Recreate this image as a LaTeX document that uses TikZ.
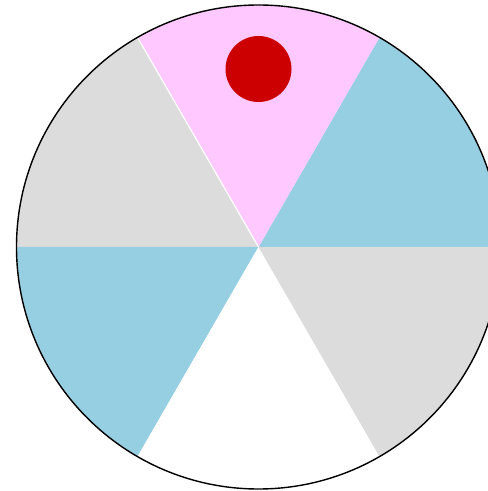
\documentclass[tikz,border=0pt]{standalone}
\definecolor{pinkS}{HTML}{FFC8FF}
\definecolor{blueS}{HTML}{97CFE2}
\definecolor{grayS}{HTML}{DCDCDC}
\definecolor{redD}{HTML}{CC0000}
\tikzset{sector/.style={draw=none}}
\begin{document}
\begin{tikzpicture}[x=1pt,y=1pt]
\useasboundingbox (0,0) rectangle (488,491);
\clip (0,0) rectangle (488,491);
\coordinate (c) at (258.5,244);
\def\R{242}
\fill[blueS] (c) -- ++(0:\R) arc (0:60:\R) -- cycle;
\fill[pinkS] (c) -- ++(60:\R) arc (60:120:\R) -- cycle;
\fill[grayS] (c) -- ++(120:\R) arc (120:180:\R) -- cycle;
\fill[blueS] (c) -- ++(180:\R) arc (180:240:\R) -- cycle;
\fill[white] (c) -- ++(240:\R) arc (240:300:\R) -- cycle;
\fill[grayS] (c) -- ++(300:\R) arc (300:360:\R) -- cycle;
\draw[white, line width=1.2pt] (c) -- ++(120:\R);
\draw[black, line width=1.4pt] (c) circle (\R);
\node[circle, fill=redD, minimum size=66pt, inner sep=0pt] (dot) at (258.5,422) {};
\end{tikzpicture}
\end{document}
